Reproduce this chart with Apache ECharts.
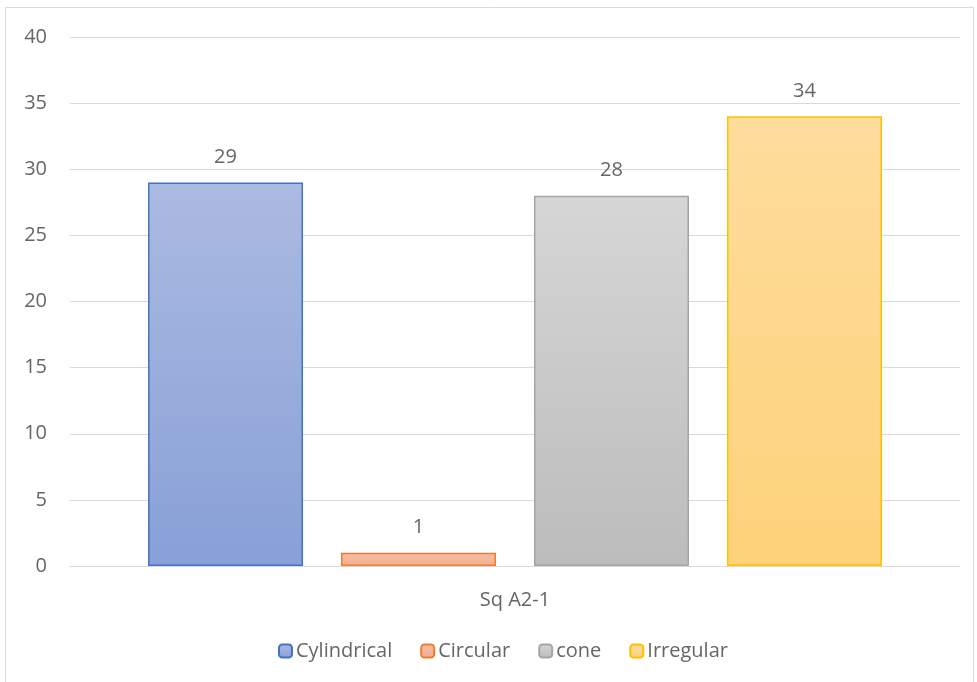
<!DOCTYPE html>
<html><head><meta charset="utf-8">
<script src="https://cdn.jsdelivr.net/npm/echarts@6/dist/echarts.min.js"></script>
<style>html,body{margin:0;padding:0;background:#fff}#c{width:977px;height:682px}</style>
</head><body><div id="c"></div>
<script>
const categories = ['Sq A2-1'];
const seriesNames = ['Cylindrical', 'Circular', 'cone', 'Irregular'];
const cylindrical = [29];
const circular = [1];
const cone = [28];
const irregular = [34];
const yTicks = [0, 5, 10, 15, 20, 25, 30, 35, 40];

const values = [cylindrical, circular, cone, irregular];
const styles = [
  {top:'#abbae1', bottom:'#88a0d7', border:'#4472c4'},
  {top:'#f6bda4', bottom:'#f3af90', border:'#ed7d31'},
  {top:'#d6d6d6', bottom:'#bcbcbc', border:'#a5a5a5'},
  {top:'#fedc9c', bottom:'#fdd27a', border:'#ffc000'}
];
const font = '"Open Sans", Lato, sans-serif';
const txt = '#666666';
const chart = echarts.init(document.getElementById('c'));
chart.setOption({
  animation:false,
  graphic:[{type:'rect', shape:{x:5.5,y:7.5,width:968,height:676}, style:{fill:'none', stroke:'#d9d9d9', lineWidth:1}, silent:true}],
  grid:{left:70, right:17, top:37, bottom:116},
  legend:{bottom:16, left:273, itemWidth:13, itemHeight:13, itemGap:28,
    textStyle:{color:txt, fontSize:20, fontFamily:font, padding:[0,0,0,-1]},
    data:seriesNames},
  xAxis:{type:'category', data:categories,
    axisLine:{lineStyle:{color:'#d9d9d9', width:1}}, axisTick:{show:false},
    axisLabel:{color:txt, fontSize:20, fontFamily:font, margin:24}},
  yAxis:{type:'value', min:yTicks[0], max:yTicks[yTicks.length-1], interval:5,
    axisLine:{show:false}, axisTick:{show:false},
    splitLine:{lineStyle:{color:'#d9d9d9', width:1}},
    axisLabel:{color:txt, fontSize:20, fontFamily:font, margin:23}},
  series: seriesNames.map((n,i)=>({
    name:n, type:'bar', data:values[i], barWidth:155, barGap:'24.5%',
    itemStyle:{
      color:new echarts.graphic.LinearGradient(0,0,0,1,[{offset:0,color:styles[i].top},{offset:1,color:styles[i].bottom}]),
      borderColor:styles[i].border, borderWidth:1.5},
    label:{show:true, position:'top', distance:15, color:txt, fontSize:20, fontFamily:font}
  }))
});
</script></body></html>
